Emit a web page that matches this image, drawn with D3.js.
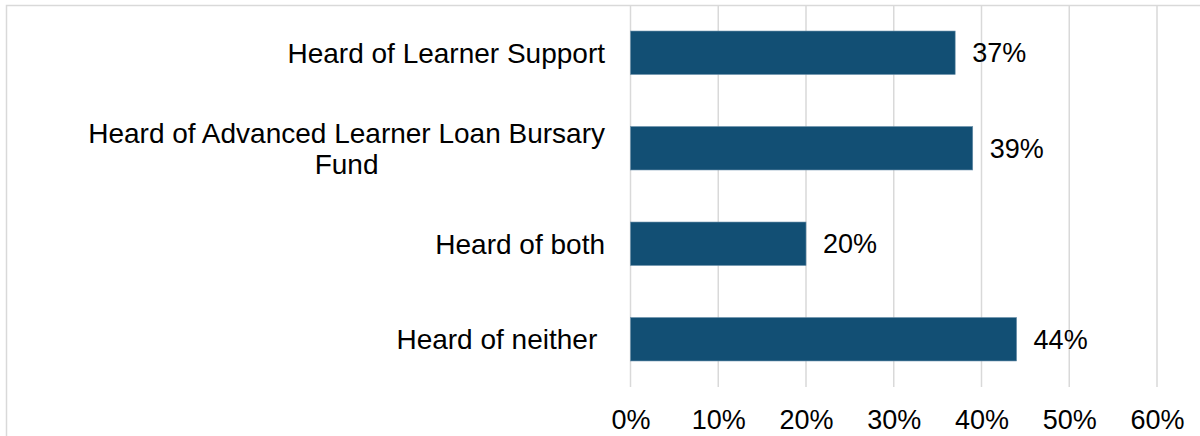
<!DOCTYPE html>
<html><head><meta charset="utf-8">
<script src="https://cdn.jsdelivr.net/npm/d3@7"></script>
<style>
html,body{margin:0;padding:0;background:#fff;}
svg{display:block;font-family:"Liberation Sans",Arial,sans-serif;}
</style></head>
<body>
<svg id="chart" width="1200" height="436"></svg>
<script>
const categories = [
  ["Heard of Learner Support"],
  ["Heard of Advanced Learner Loan Bursary", "Fund"],
  ["Heard of both"],
  ["Heard of neither "]
];
const values = [37, 39, 20, 44];
const tickValues = [0, 10, 20, 30, 40, 50, 60];

const svg = d3.select("#chart");
const x = d3.scaleLinear().domain([0, 60]).range([630.5, 1157]);
const y = d3.scaleBand().domain(d3.range(categories.length)).range([5, 387]).paddingInner(0.545).paddingOuter(0.2725);

// outer border
svg.append("rect").attr("x", 6.5).attr("y", 5.5).attr("width", 1250).attr("height", 500)
  .attr("fill", "none").attr("stroke", "#d9d9d9").attr("stroke-width", 1.5);

// gridlines
svg.append("g").selectAll("line").data(tickValues).join("line")
  .attr("x1", d => x(d)).attr("x2", d => x(d))
  .attr("y1", 6).attr("y2", 387)
  .attr("stroke", "#d9d9d9").attr("stroke-width", 1.5);

// axis labels
const xAxis = d3.axisBottom(x).tickValues(tickValues).tickFormat(d => d + "%").tickSize(0).tickPadding(0);
const ax = svg.append("g").attr("transform", "translate(0,410)").call(xAxis);
ax.select(".domain").remove();
ax.selectAll("text").attr("font-size", 27).attr("fill", "#000")
  .attr("font-family", "Liberation Sans, Arial, sans-serif").attr("dy", "0.71em");

// bars
svg.append("g").selectAll("rect").data(values).join("rect")
  .attr("x", x(0)).attr("y", (d, i) => y(i))
  .attr("width", d => x(d) - x(0)).attr("height", y.bandwidth())
  .attr("fill", "#124f74").attr("stroke", "#6a90aa").attr("stroke-width", 0.6);

// data labels
svg.append("g").selectAll("text").data(values).join("text")
  .attr("x", d => x(d) + 17).attr("y", (d, i) => y(i) + y.bandwidth() / 2)
  .attr("dy", "0.35em").attr("font-size", 27).attr("fill", "#000")
  .text(d => d + "%");

// category labels
const lh = 31;
const catG = svg.append("g");
categories.forEach((lines, i) => {
  const cy = y(i) + y.bandwidth() / 2;
  const n = lines.length;
  // measure widest line for block right alignment with centered lines
  const tmp = catG.append("text").attr("font-size", 28).style("white-space", "pre").text(lines.reduce((a, b) => a.length > b.length ? a : b));
  const w = tmp.node().getComputedTextLength();
  tmp.remove();
  const right = 605;
  lines.forEach((t, j) => {
    catG.append("text")
      .attr("x", n > 1 ? right - w / 2 : right)
      .attr("y", cy + (j - (n - 1) / 2) * lh)
      .attr("dy", "0.35em")
      .attr("text-anchor", n > 1 ? "middle" : "end")
      .attr("font-size", 28).attr("fill", "#000")
      .style("white-space", "pre")
      .text(t);
  });
});
</script>
</body></html>
